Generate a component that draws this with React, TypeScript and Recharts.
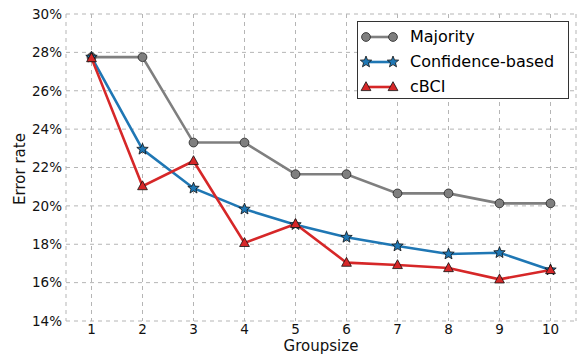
import { CartesianGrid, Legend, Line, LineChart, XAxis, YAxis } from "recharts";

const groupSizes = [1, 2, 3, 4, 5, 6, 7, 8, 9, 10];
const majority = [27.75, 27.75, 23.3, 23.3, 21.65, 21.65, 20.65, 20.65, 20.13, 20.13];
const confidence = [27.75, 22.95, 20.92, 19.83, 19.02, 18.36, 17.91, 17.49, 17.56, 16.66];
const cbci = [27.7, 21.03, 22.34, 18.07, 19.06, 17.04, 16.92, 16.76, 16.17, 16.66];
const seriesNames = ["Majority", "Confidence-based", "cBCI"];
const yTicks = [14, 16, 18, 20, 22, 24, 26, 28, 30];

const data = groupSizes.map((g, i) => ({
  g,
  majority: majority[i],
  confidence: confidence[i],
  cbci: cbci[i],
}));

const FONT = "'DejaVu Sans', sans-serif";
const GRAY = "#7f7f7f";
const BLUE = "#1f77b4";
const RED = "#d62728";

function starPoints(cx: number, cy: number, R: number, r: number) {
  const pts: string[] = [];
  for (let i = 0; i < 10; i++) {
    const rad = i % 2 === 0 ? R : r;
    const a = -Math.PI / 2 + (i * Math.PI) / 5;
    pts.push(`${cx + rad * Math.cos(a)},${cy + rad * Math.sin(a)}`);
  }
  return pts.join(" ");
}

function Marker({ kind, cx, cy }: { kind: string; cx: number; cy: number }) {
  if (kind === "circle")
    return <circle cx={cx} cy={cy} r={4.4} fill={GRAY} stroke="#222" strokeWidth={0.8} />;
  if (kind === "star")
    return <polygon points={starPoints(cx, cy, 6, 2.6)} fill={BLUE} stroke="#111" strokeWidth={0.8} />;
  return (
    <polygon
      points={`${cx},${cy - 5.3} ${cx + 4.9},${cy + 3.6} ${cx - 4.9},${cy + 3.6}`}
      fill={RED}
      stroke="#111"
      strokeWidth={0.8}
    />
  );
}

const kinds = ["circle", "star", "triangle"];
const colors = [GRAY, BLUE, RED];

function LegendBox() {
  return (
    <div
      style={{
        width: 210,
        height: 76,
        border: "1px solid #333",
        background: "#fff",
        fontFamily: FONT,
        fontSize: 16,
        color: "#000",
      }}
    >
      {seriesNames.map((name, i) => (
        <div key={name} style={{ display: "flex", alignItems: "center", height: 25, marginTop: i === 0 ? 2 : 0 }}>
          <svg width={52} height={20}>
            <line x1={8} y1={10} x2={35} y2={10} stroke={colors[i]} strokeWidth={2.6} />
            <Marker kind={kinds[i]} cx={8} cy={10} />
            <Marker kind={kinds[i]} cx={35} cy={10} />
          </svg>
          <span>{name}</span>
        </div>
      ))}
    </div>
  );
}

export default function App() {
  return (
    <div style={{ position: "absolute", left: 0, top: 0 }}>
      <LineChart width={577} height={355} data={data} margin={{ top: 14, right: 1, left: 0, bottom: 0 }}>
        <CartesianGrid stroke="#b5b5b5" strokeDasharray="4 4" />
        <XAxis
          dataKey="g"
          type="number"
          domain={[0.5, 10.5]}
          ticks={groupSizes}
          height={34}
          axisLine={false}
          tickLine={false}
          tickSize={0}
          tickMargin={3}
          tick={{ fontSize: 13.5, fill: "#111", fontFamily: FONT }}
          label={{ value: "Groupsize", position: "insideBottom", offset: 4, fontSize: 15, fill: "#111", fontFamily: FONT }}
        />
        <YAxis
          type="number"
          domain={[14, 30]}
          ticks={yTicks}
          width={66}
          axisLine={false}
          tickLine={false}
          tickSize={0}
          tickMargin={4}
          tickFormatter={(v) => `${v}%`}
          tick={{ fontSize: 13.5, fill: "#111", fontFamily: FONT }}
          label={{
            content: () => (
              <text
                x={25}
                y={169}
                transform="rotate(-90 25 169)"
                textAnchor="middle"
                fontSize={15}
                fill="#111"
                fontFamily={FONT}
              >
                Error rate
              </text>
            ),
          }}
        />
        <Line
          dataKey="majority"
          stroke={GRAY}
          strokeWidth={2.6}
          isAnimationActive={false}
          dot={(p: any) => <Marker key={`m${p.index}`} kind="circle" cx={p.cx} cy={p.cy} />}
        />
        <Line
          dataKey="confidence"
          stroke={BLUE}
          strokeWidth={2.6}
          isAnimationActive={false}
          dot={(p: any) => <Marker key={`c${p.index}`} kind="star" cx={p.cx} cy={p.cy} />}
        />
        <Line
          dataKey="cbci"
          stroke={RED}
          strokeWidth={2.6}
          isAnimationActive={false}
          dot={(p: any) => <Marker key={`b${p.index}`} kind="triangle" cx={p.cx} cy={p.cy} />}
        />
        <Legend
          layout="vertical"
          align="center"
          verticalAlign="middle"
          content={() => <LegendBox />}
          wrapperStyle={{ left: 357, top: 21, width: 212, height: 78 }}
        />
      </LineChart>
    </div>
  );
}
